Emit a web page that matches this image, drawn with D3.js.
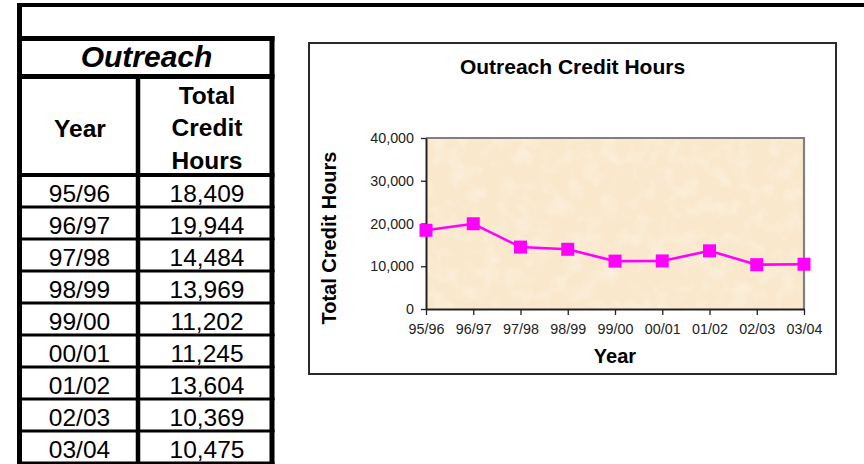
<!DOCTYPE html>
<html>
<head>
<meta charset="utf-8">
<script src="https://cdn.jsdelivr.net/npm/d3@7"></script>
<style>
  body { margin: 0; background: #fff; }
  svg { display: block; font-family: "Liberation Sans", Arial, sans-serif; }
</style>
</head>
<body>
<svg id="page" width="864" height="464"></svg>
<script>
var years = ["95/96", "96/97", "97/98", "98/99", "99/00", "00/01", "01/02", "02/03", "03/04"];
var creditHours = [18409, 19944, 14484, 13969, 11202, 11245, 13604, 10369, 10475];
var yTicks = [0, 10000, 20000, 30000, 40000];
var headerLines = ["Total", "Credit", "Hours"];

var svg = d3.select("#page"),
    fmt = d3.format(",");

// ---- left side: the spreadsheet table ----
var tbl = svg.append("g").attr("class", "table");

var colLeft = 19.5, colMid = 138, colRight = 272,
    rowTop = 175, rowH = 32;

function hline(y, x1, x2, w) {
  tbl.append("line").attr("x1", x1).attr("x2", x2).attr("y1", y).attr("y2", y)
    .attr("stroke", "#000").attr("stroke-width", w);
}
function vline(x, y1, y2, w) {
  tbl.append("line").attr("x1", x).attr("x2", x).attr("y1", y1).attr("y2", y2)
    .attr("stroke", "#000").attr("stroke-width", w);
}

// outer frame
hline(5, 17, 864, 4);
vline(colLeft, 3, 464, 5);

// table frame
hline(38.5, 17, 274.5, 5);
hline(76.5, 17, 274.5, 5);
hline(rowTop, 17, 274.5, 4);
vline(colRight, 36, 464, 5);
vline(colMid, 76.5, 464, 4.5);

years.forEach(function(d, i) {
  hline(rowTop + rowH * (i + 1), 17, 274.5, 3);
});

tbl.append("text")
  .attr("x", 146.5).attr("y", 67)
  .attr("text-anchor", "middle")
  .attr("font-size", 30).attr("font-weight", "bold").attr("font-style", "italic")
  .text("Outreach");

tbl.append("text")
  .attr("x", 80).attr("y", 137)
  .attr("text-anchor", "middle")
  .attr("font-size", 24.5).attr("font-weight", "bold")
  .text("Year");

tbl.selectAll("text.hdr")
  .data(headerLines)
  .enter().append("text")
  .attr("class", "hdr")
  .attr("x", 207).attr("y", function(d, i) { return 104 + i * 32.3; })
  .attr("text-anchor", "middle")
  .attr("font-size", 24.5).attr("font-weight", "bold")
  .text(function(d) { return d; });

var rows = tbl.selectAll("g.row")
  .data(years.map(function(y, i) { return { year: y, hours: creditHours[i] }; }))
  .enter().append("g")
  .attr("class", "row")
  .attr("transform", function(d, i) { return "translate(0," + (rowTop + rowH * i + 27) + ")"; });

rows.append("text")
  .attr("x", 79.5).attr("text-anchor", "middle")
  .attr("font-size", 24.5)
  .text(function(d) { return d.year; });

rows.append("text")
  .attr("x", 207).attr("text-anchor", "middle")
  .attr("font-size", 24.5)
  .text(function(d) { return fmt(d.hours); });

// ---- right side: the embedded chart ----
var plot = { left: 426, right: 804, top: 138, bottom: 309 };

var x = d3.scalePoint().domain(years).range([plot.left, plot.right]),
    y = d3.scaleLinear().domain([0, 40000]).range([plot.bottom, plot.top]);

// faint parchment mottling for the plot area
var defs = svg.append("defs");
var filt = defs.append("filter").attr("id", "parchment")
  .attr("x", 0).attr("y", 0).attr("width", 1).attr("height", 1);
filt.append("feTurbulence").attr("type", "fractalNoise")
  .attr("baseFrequency", 0.06).attr("numOctaves", 4).attr("seed", 3).attr("result", "n");
filt.append("feColorMatrix").attr("type", "matrix")
  .attr("values", "0 0 0 0 1  0 0 0 0 1  0 0 0 0 1  0 0 0 1.6 -0.7");

svg.append("rect")
  .attr("x", 309).attr("y", 43).attr("width", 527).attr("height", 331)
  .attr("fill", "#fff").attr("stroke", "#2a2a2a").attr("stroke-width", 2);

svg.append("rect")
  .attr("x", plot.left).attr("y", plot.top)
  .attr("width", plot.right - plot.left).attr("height", plot.bottom - plot.top)
  .attr("fill", "#f9e8cc");
svg.append("rect")
  .attr("x", plot.left).attr("y", plot.top)
  .attr("width", plot.right - plot.left).attr("height", plot.bottom - plot.top)
  .attr("filter", "url(#parchment)").attr("opacity", 0.45);

// grey top and right edges of the plot area
svg.append("path")
  .attr("d", "M" + plot.left + "," + plot.top + "H" + plot.right + "V" + plot.bottom)
  .attr("fill", "none").attr("stroke", "#808080").attr("stroke-width", 2.2);

var yAxis = svg.append("g")
  .attr("transform", "translate(" + plot.left + ",0)")
  .call(d3.axisLeft(y).tickValues(yTicks).tickFormat(fmt).tickSize(5).tickSizeOuter(0).tickPadding(7));

var xAxis = svg.append("g")
  .attr("transform", "translate(0," + plot.bottom + ")")
  .call(d3.axisBottom(x).tickSize(6).tickSizeOuter(0).tickPadding(9));

[yAxis, xAxis].forEach(function(ax) {
  ax.attr("font-family", null).attr("font-size", 14.3);
  ax.select(".domain").attr("stroke", "#222").attr("stroke-width", 2);
  ax.selectAll(".tick line").attr("stroke", "#222").attr("stroke-width", 1.3);
  ax.selectAll(".tick text").attr("fill", "#222");
});

var line = d3.line()
  .x(function(d, i) { return x(years[i]); })
  .y(function(d) { return y(d); });

svg.append("path")
  .datum(creditHours)
  .attr("d", line)
  .attr("fill", "none").attr("stroke", "#ff00ff").attr("stroke-width", 2.6);

var ms = 13;
svg.selectAll("rect.marker")
  .data(creditHours)
  .enter().append("rect")
  .attr("class", "marker")
  .attr("x", function(d, i) { return x(years[i]) - ms / 2; })
  .attr("y", function(d) { return y(d) - ms / 2; })
  .attr("width", ms).attr("height", ms)
  .attr("fill", "#ff00ff");

svg.append("text")
  .attr("x", 572.5).attr("y", 74)
  .attr("text-anchor", "middle")
  .attr("font-size", 21).attr("font-weight", "bold")
  .text("Outreach Credit Hours");

svg.append("text")
  .attr("transform", "translate(336,238) rotate(-90)")
  .attr("text-anchor", "middle")
  .attr("font-size", 20).attr("font-weight", "bold")
  .text("Total Credit Hours");

svg.append("text")
  .attr("x", (plot.left + plot.right) / 2).attr("y", 363)
  .attr("text-anchor", "middle")
  .attr("font-size", 20).attr("font-weight", "bold")
  .text("Year");
</script>
</body>
</html>
